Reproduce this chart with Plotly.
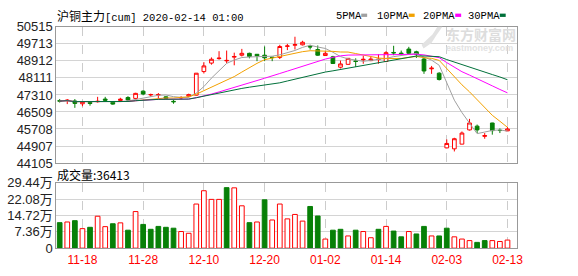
import plotly.graph_objects as go
import pandas as pd
import numpy as np

W, H = 578, 276
def px(x): return x / W
def py(y): return 1 - y / H

# ---------------- data ----------------
dates = ["11-13","11-14","11-15","11-18","11-19","11-20","11-21","11-22","11-25","11-26","11-27","11-28","11-29",
         "12-02","12-03","12-04","12-05","12-06","12-09","12-10","12-11","12-12","12-13","12-16","12-17","12-18",
         "12-19","12-20","12-23","12-24","12-25","12-26","12-27","12-30","12-31",
         "01-02","01-03","01-06","01-07","01-08","01-09","01-10","01-13","01-14","01-15","01-16","01-17","01-20",
         "01-21","01-22","01-23",
         "02-03","02-04","02-05","02-06","02-07","02-10","02-11","02-12","02-13"]

opens = [47040,47050,47028,46894,46955,46990,47117,46969,47050,47190,47147,47488,47310,47310,47220,47010,47170,47250,
         47300,48410,48810,49020,48915,49090,49180,49269,49224,49180,49090,49077,49600,49650,49670,49600,49447,49165,
         49104,48615,48750,48910,48960,48926,48975,48884,49310,49280,49470,49343,49002,48540,48334,44818,44773,44995,
         45664,45842,45360,45990,45650,45619]
highs = [47117,47117,47117,47000,46998,47220,47220,46975,47176,47250,47410,47532,47370,47400,47250,47070,47252,47370,
         48340,48855,49077,49370,49400,49300,49478,49300,49230,49594,49095,49670,49714,50050,49860,49670,49640,49370,
         49150,48926,49040,49033,49150,49120,49224,49370,49625,49400,49575,49390,49077,48677,48380,45218,45294,45590,
         46183,45916,45516,46000,45735,45812]
lows = [46953,46880,46702,46776,46805,46950,47000,46850,47000,47030,47140,47295,47235,47150,47120,46895,47100,47200,
        47280,48320,48735,48970,48810,48705,49122,49033,48900,48900,48900,49000,49420,49450,49640,49447,49150,49150,
        48779,48557,48740,48632,48779,48900,48779,48850,49180,49150,49224,49050,48303,48303,47990,44800,44650,44990,
        45635,45516,45249,45440,45516,45610]
closes = [47020,47060,46910,46998,46910,47010,47060,46880,47110,47072,47384,47354,47330,47325,47147,46990,47190,47325,
          48334,48677,48990,49040,48935,49120,49269,49122,49150,49060,49070,49590,49615,49680,49789,49570,49180,49269,
          48790,48770,49033,48890,48985,49000,48990,49300,49290,49250,49269,49224,48437,48570,48036,45027,45249,45516,
          45990,45664,45400,45630,45635,45708]
volumes = [115000,118000,124000,88000,94000,144000,97000,110000,114000,81000,165000,107000,85000,98000,94000,90000,
           75000,67000,199000,259000,220000,220000,273000,272000,191000,115000,118000,218000,127000,199000,132000,
           152000,122000,188000,145000,41000,81000,85000,55000,81000,75000,47000,85000,98000,77000,51000,75000,64000,
           98000,55000,55000,90000,51000,41000,34000,26000,34000,34000,30000,36413]

price_tick_labels = ["44105","44907","45708","46509","47310","48111","48912","49713","50515"]
price_range = [44105, 50515]
vol_tick_labels = ["0","7.36万","14.72万","22.08万","29.44万"]
vol_max = 294400
date_tick_labels = ["11-18","11-28","12-10","12-20","01-02","01-14","02-03","02-13"]
ma_periods = [5, 10, 20, 30]
ma_names = ["5PMA", "10PMA", "20PMA", "30PMA"]
title_name = "沪铜主力"
title_rest = "[cum] 2020-02-14 01:00"

# ---------------- styles ----------------
RED = "#ff0000"
GREEN = "#078007"
ma_colors = ["#a0a0a0", "#f2a100", "#ff00ff", "#00703a"]

x = list(range(len(dates)))
tickvals = [dates.index(t) for t in date_tick_labels]
close_s = pd.Series(closes)

fig = go.Figure()

# MA lines
for n, c in zip(ma_periods, ma_colors):
    ma = close_s.rolling(n, min_periods=1).mean()
    fig.add_trace(go.Scatter(x=x, y=ma, mode="lines", line=dict(color=c, width=1),
                             xaxis="x", yaxis="y", hoverinfo="skip", showlegend=False))

fig.add_trace(go.Candlestick(
    x=x, open=opens, high=highs, low=lows, close=closes,
    increasing=dict(line=dict(color=RED, width=1), fillcolor="white"),
    decreasing=dict(line=dict(color=GREEN, width=1), fillcolor=GREEN),
    whiskerwidth=0, xaxis="x", yaxis="y", showlegend=False, hoverinfo="skip"))

# volume colours follow close vs previous close
up = [closes[0] >= opens[0]] + [closes[i] >= closes[i - 1] for i in range(1, len(closes))]
fig.add_trace(go.Bar(
    x=x, y=volumes, width=0.62,
    marker=dict(color=["white" if u else GREEN for u in up],
                line=dict(color=[RED if u else GREEN for u in up], width=1)),
    xaxis="x2", yaxis="y2", showlegend=False, hoverinfo="skip"))

xdom = [px(57), px(522)]
xr = [-0.43, 60.2]
axis_common = dict(showline=True, mirror=True, linecolor="#999999", linewidth=1, zeroline=False,
                   ticks="", fixedrange=True)

fig.update_layout(
    width=W, height=H, margin=dict(l=0, r=0, t=0, b=0),
    paper_bgcolor="white", plot_bgcolor="white",
    xaxis=dict(domain=xdom, range=xr, anchor="y", tickvals=tickvals, showticklabels=False,
               showgrid=True, gridcolor="#cccccc", griddash="dash", gridwidth=1,
               rangeslider=dict(visible=False), **axis_common),
    yaxis=dict(domain=[py(165), py(21)], range=price_range, anchor="x",
               tickvals=list(np.linspace(price_range[0], price_range[1], len(price_tick_labels))),
               ticktext=price_tick_labels, showgrid=True, gridcolor="#d4d4d4", gridwidth=1,
               tickfont=dict(family="Liberation Sans, Arial", size=13, color="#222222"), **axis_common),
    xaxis2=dict(domain=xdom, range=xr, anchor="y2", tickvals=tickvals, ticktext=date_tick_labels,
                showgrid=True, gridcolor="#cccccc", griddash="dash", gridwidth=1,
                tickfont=dict(family="Liberation Sans, Arial", size=12, color=RED), **axis_common),
    yaxis2=dict(domain=[py(255), py(186)], range=[0, vol_max], anchor="x2",
                tickvals=list(np.linspace(0, vol_max, len(vol_tick_labels))), ticktext=vol_tick_labels,
                showgrid=True, gridcolor="#d4d4d4", gridwidth=1,
                tickfont=dict(family="Liberation Sans, Noto Sans CJK SC", size=13, color="#222222"),
                **axis_common),
    bargap=0.3,
)

annotations = []
shapes = []

# watermark
annotations.append(dict(x=px(486), y=py(28.5), xref="paper", yref="paper", showarrow=False, borderpad=0,
                        text="<b>东方财富网</b>", font=dict(family="Noto Sans CJK SC", size=14, color="#dddddd"),
                        xanchor="center", yanchor="middle"))
annotations.append(dict(x=px(485), y=py(43.5), xref="paper", yref="paper", showarrow=False, borderpad=0,
                        text="<b>eastmoney.com</b>", font=dict(family="Liberation Sans", size=9, color="#e2e2e2"),
                        xanchor="center", yanchor="middle"))
logo = [(428, 44), (436, 38), (441, 30), (447, 21), (442, 21), (437, 29), (431, 35), (426, 40)]
path = "M " + " L ".join(f"{px(a):.5f},{py(b):.5f}" for a, b in logo) + " Z"
shapes.append(dict(type="path", path=path, xref="paper", yref="paper", fillcolor="#e2e2e2", line=dict(width=0)))

# title
annotations.append(dict(x=px(56), y=py(8.5), xref="paper", yref="paper", showarrow=False,
                        text=f"<span style='font-family:Noto Sans CJK SC;font-size:12px'>{title_name}</span>{title_rest}",
                        font=dict(family="Liberation Mono", size=10.5, color="#000000"),
                        xanchor="left", yanchor="middle"))

# MA legend
leg_x = [337, 379, 425, 471]
sq_x = [365, 413, 460, 505]
for name, c, lx, sx in zip(ma_names, ma_colors, leg_x, sq_x):
    annotations.append(dict(x=px(lx), y=py(9), xref="paper", yref="paper", showarrow=False, text=name,
                            font=dict(family="Liberation Mono", size=10.5, color="#000000"),
                            xanchor="left", yanchor="middle"))
    shapes.append(dict(type="rect", xref="paper", yref="paper", x0=px(sx), x1=px(sx + 6),
                       y0=py(10.5), y1=py(7), fillcolor=c, line=dict(width=0)))

# volume caption
annotations.append(dict(x=px(56), y=py(177.5), xref="paper", yref="paper", showarrow=False,
                        text=f"成交量:{volumes[-1]}",
                        font=dict(family="Noto Sans CJK SC", size=12, color="#000000"),
                        xanchor="left", yanchor="middle"))

fig.update_layout(annotations=annotations, shapes=shapes)
fig.write_html("out.html")
